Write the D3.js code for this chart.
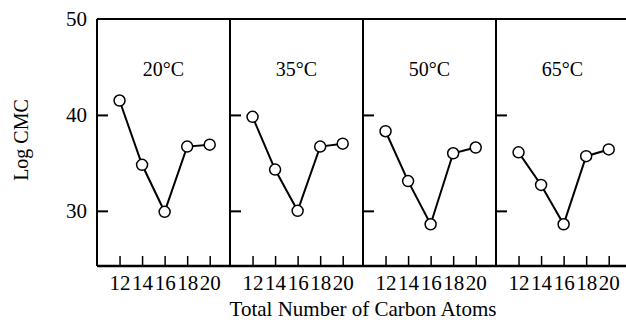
<!DOCTYPE html>
<html>
<head>
<meta charset="utf-8">
<script src="https://cdn.jsdelivr.net/npm/d3@7"></script>
<style>
  body { margin: 0; background: #fff; }
  svg { display: block; }
  svg text { font-family: "Liberation Serif", "Times New Roman", serif; fill: #000; }
</style>
</head>
<body>
<div class="chart"></div>
<script>
// 資料
const carbons = [12, 14, 16, 18, 20]
const temps = ['20°C', '35°C', '50°C', '65°C']
const cmc20 = [41.5, 34.8, 29.9, 36.7, 36.9]
const cmc35 = [39.8, 34.3, 30.0, 36.7, 37.0]
const cmc50 = [38.3, 33.1, 28.6, 36.0, 36.6]
const cmc65 = [36.1, 32.7, 28.6, 35.7, 36.4]
const series = [cmc20, cmc35, cmc50, cmc65]
const yTicks = [30, 40, 50]

const svgWidth = 626, svgHeight = 324
const marginLeft = 97, plotTop = 19, plotBottom = 266, panelW = 133

const svg = d3.select('.chart')
              .append('svg')
              .attr('width', svgWidth)
              .attr('height', svgHeight)

// y 比例尺
const yScale = d3.scaleLinear()
                 .domain([24.25, 50])
                 .range([plotBottom, plotTop])

// 每個 panel 的 x 比例尺（寬度相同）
const xScale = d3.scaleLinear()
                 .domain([10, 21.8])
                 .range([0, panelW])

// 左邊 y 軸文字
const yLabelAxis = d3.axisLeft(yScale)
                     .tickValues(yTicks)
                     .tickSize(0)
                     .tickPadding(10)
const yLabelGroup = svg.append('g')
                       .attr('transform', `translate(${marginLeft},0)`)
                       .call(yLabelAxis)
yLabelGroup.select('.domain').remove()
yLabelGroup.selectAll('text')
           .style('font-size', '21px')

const line = d3.line()
               .x((d, i) => xScale(carbons[i]))
               .y(d => yScale(d))

temps.forEach((t, p) => {
    const g = svg.append('g')
                 .attr('transform', `translate(${marginLeft + p * panelW},0)`)

    // y 軸刻度（往內）
    const yAxis = d3.axisRight(yScale)
                    .tickValues([30, 40])
                    .tickSize(11)
                    .tickFormat('')
    const ya = g.append('g').call(yAxis)
    ya.select('.domain').remove()
    ya.selectAll('line').attr('stroke', '#000').attr('stroke-width', 2)

    // x 軸刻度（往上）
    const xAxis = d3.axisBottom(xScale)
                    .tickValues(carbons)
                    .tickSize(-10)
                    .tickPadding(9)
    const xa = g.append('g')
                .attr('transform', `translate(0,${plotBottom})`)
                .call(xAxis)
    xa.select('.domain').remove()
    xa.selectAll('line').attr('stroke', '#000').attr('stroke-width', 1.5)
    xa.selectAll('text')
      .style('font-size', '21px')

    // panel 左邊線
    g.append('line')
     .attr('x1', 0).attr('x2', 0)
     .attr('y1', plotTop).attr('y2', plotBottom)
     .attr('stroke', '#000')
     .attr('stroke-width', 2)

    // 溫度標題
    g.append('text')
     .attr('x', panelW / 2)
     .attr('y', 76)
     .attr('text-anchor', 'middle')
     .style('font-size', '20px')
     .text(t)

    // 折線
    g.append('path')
     .datum(series[p])
     .attr('d', line)
     .attr('fill', 'none')
     .attr('stroke', '#000')
     .attr('stroke-width', 2)

    g.selectAll('circle')
     .data(series[p])
     .join('circle')
     .attr('cx', (d, i) => xScale(carbons[i]))
     .attr('cy', d => yScale(d))
     .attr('r', 5.5)
     .attr('fill', '#fff')
     .attr('stroke', '#000')
     .attr('stroke-width', 1.5)
})

// 外框上下線
svg.append('line')
   .attr('x1', marginLeft).attr('x2', marginLeft + 4 * panelW)
   .attr('y1', plotTop).attr('y2', plotTop)
   .attr('stroke', '#000').attr('stroke-width', 2)
svg.append('line')
   .attr('x1', marginLeft).attr('x2', marginLeft + 4 * panelW)
   .attr('y1', plotBottom).attr('y2', plotBottom)
   .attr('stroke', '#000').attr('stroke-width', 2.5)

// 軸標題
svg.append('text')
   .attr('x', marginLeft + 2 * panelW)
   .attr('y', 316)
   .attr('text-anchor', 'middle')
   .style('font-size', '21px')
   .text('Total Number of Carbon Atoms')

svg.append('text')
   .attr('transform', 'translate(28,140) rotate(-90)')
   .attr('text-anchor', 'middle')
   .style('font-size', '20px')
   .text('Log CMC')
</script>
</body>
</html>
